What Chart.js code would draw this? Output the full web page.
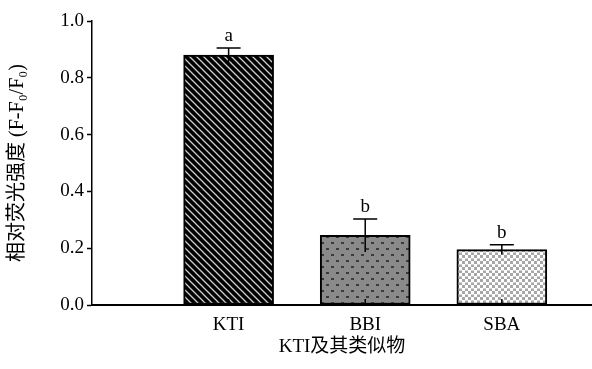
<!DOCTYPE html>
<html><head><meta charset="utf-8">
<script src="https://cdn.jsdelivr.net/npm/chart.js@4"></script>
<style>html,body{margin:0;padding:0;background:#fff}</style>
</head><body>
<canvas id="c" width="592" height="369"></canvas>
<script>
const categories = ['KTI', 'BBI', 'SBA'];
const positions = [1, 2, 3];
const values = [0.88, 0.245, 0.195];
const errors = [0.025, 0.058, 0.017];
const letters = ['a', 'b', 'b'];
const yTicks = [0, 0.2, 0.4, 0.6, 0.8, 1.0];
const xTitle = 'KTI及其类似物';
const yTitle = '相对荧光强度 (F-F₀/F₀)';

const FONT = '"Liberation Serif", "Times New Roman", "Noto Sans CJK SC", serif';

function makeTile(w, h, draw) {
  const c = document.createElement('canvas');
  c.width = w; c.height = h;
  const g = c.getContext('2d');
  draw(g, w, h);
  return g.createPattern(c, 'repeat');
}
const ctx = document.getElementById('c').getContext('2d');
const stripes = makeTile(7, 7, (g, w, h) => {
  g.fillStyle = '#000'; g.fillRect(0, 0, w, h);
  g.strokeStyle = '#cfcfcf'; g.lineWidth = 1.3;
  g.beginPath();
  g.moveTo(-1, -1); g.lineTo(w + 1, h + 1);
  g.moveTo(-1, h - 1); g.lineTo(1, h + 1);
  g.moveTo(w - 1, -1); g.lineTo(w + 1, 1);
  g.stroke();
});
const dots = makeTile(10, 12, (g, w, h) => {
  g.fillStyle = '#8a8a8a'; g.fillRect(0, 0, w, h);
  g.fillStyle = '#3a3a3a';
  g.fillRect(1, 2, 3, 2);
  g.fillRect(6, 8, 3, 2);
});
const checks = makeTile(6, 6, (g, w, h) => {
  g.fillStyle = '#a6a6a6'; g.fillRect(0, 0, w, h);
  g.fillStyle = '#ffffff';
  g.fillRect(0, 0, 3, 3);
  g.fillRect(3, 3, 3, 3);
  g.fillStyle = '#d0d0d0';
  g.fillRect(3, 0, 3, 1);
});

const extras = {
  id: 'extras',
  afterDatasetsDraw(chart) {
    const c = chart.ctx, xs = chart.scales.x, ys = chart.scales.y;
    c.save();
    c.strokeStyle = '#000';
    c.lineWidth = 1.5;
    const y0 = ys.getPixelForValue(0);
    positions.forEach((p, i) => {
      const x = xs.getPixelForValue(p);
      c.beginPath(); c.moveTo(x, y0); c.lineTo(x, y0 - 6); c.stroke();
      const yt = ys.getPixelForValue(values[i] + errors[i]);
      const yb = ys.getPixelForValue(values[i] - errors[i]);
      c.beginPath();
      c.moveTo(x, yt); c.lineTo(x, yb);
      c.moveTo(x - 12, yt); c.lineTo(x + 12, yt);
      c.stroke();
      c.fillStyle = '#000';
      c.font = '19px ' + FONT;
      c.textAlign = 'center';
      c.textBaseline = 'alphabetic';
      c.fillText(letters[i], x, yt - 7);
    });
    c.restore();
  }
};

new Chart(ctx, {
  type: 'bar',
  data: {
    datasets: [{
      data: positions.map((x, i) => ({ x: x, y: values[i] })),
      backgroundColor: [stripes, dots, checks],
      borderColor: '#000',
      borderWidth: 2,
      borderSkipped: false,
      barThickness: 90
    }]
  },
  options: {
    responsive: false,
    animation: false,
    devicePixelRatio: 1,
    layout: { padding: { top: 21, right: 0, left: 0, bottom: 0 } },
    plugins: { legend: { display: false }, tooltip: { enabled: false } },
    scales: {
      x: {
        type: 'linear',
        offset: false,
        min: 0,
        max: 3.66,
        afterBuildTicks: s => { s.ticks = positions.map(v => ({ value: v })); },
        afterFit: s => { s.height = 64; },
        ticks: {
          callback: v => categories[positions.indexOf(v)],
          font: { family: FONT, size: 19 },
          color: '#000',
          padding: 1,
          maxRotation: 0,
          autoSkip: false
        },
        grid: { display: false },
        border: { display: true, color: '#000', width: 2 },
        title: {
          display: true,
          text: xTitle,
          font: { family: FONT, size: 19 },
          color: '#000',
          padding: { top: 0, bottom: 11 }
        }
      },
      y: {
        min: 0,
        max: 1,
        afterBuildTicks: s => { s.ticks = yTicks.map(v => ({ value: v })); },
        afterFit: s => { s.width = 92; },
        ticks: {
          callback: v => v.toFixed(1),
          font: { family: FONT, size: 19 },
          color: '#000',
          padding: 3
        },
        grid: { drawOnChartArea: false, drawTicks: true, tickLength: 5, tickColor: '#000', tickWidth: 1.5, color: 'rgba(0,0,0,0)' },
        border: { display: true, color: '#000', width: 1.5 },
        title: {
          display: true,
          text: yTitle,
          font: { family: FONT, size: 20 },
          color: '#000',
          padding: { top: 6, bottom: 0 }
        }
      }
    }
  },
  plugins: [extras]
});
</script>
</body></html>
